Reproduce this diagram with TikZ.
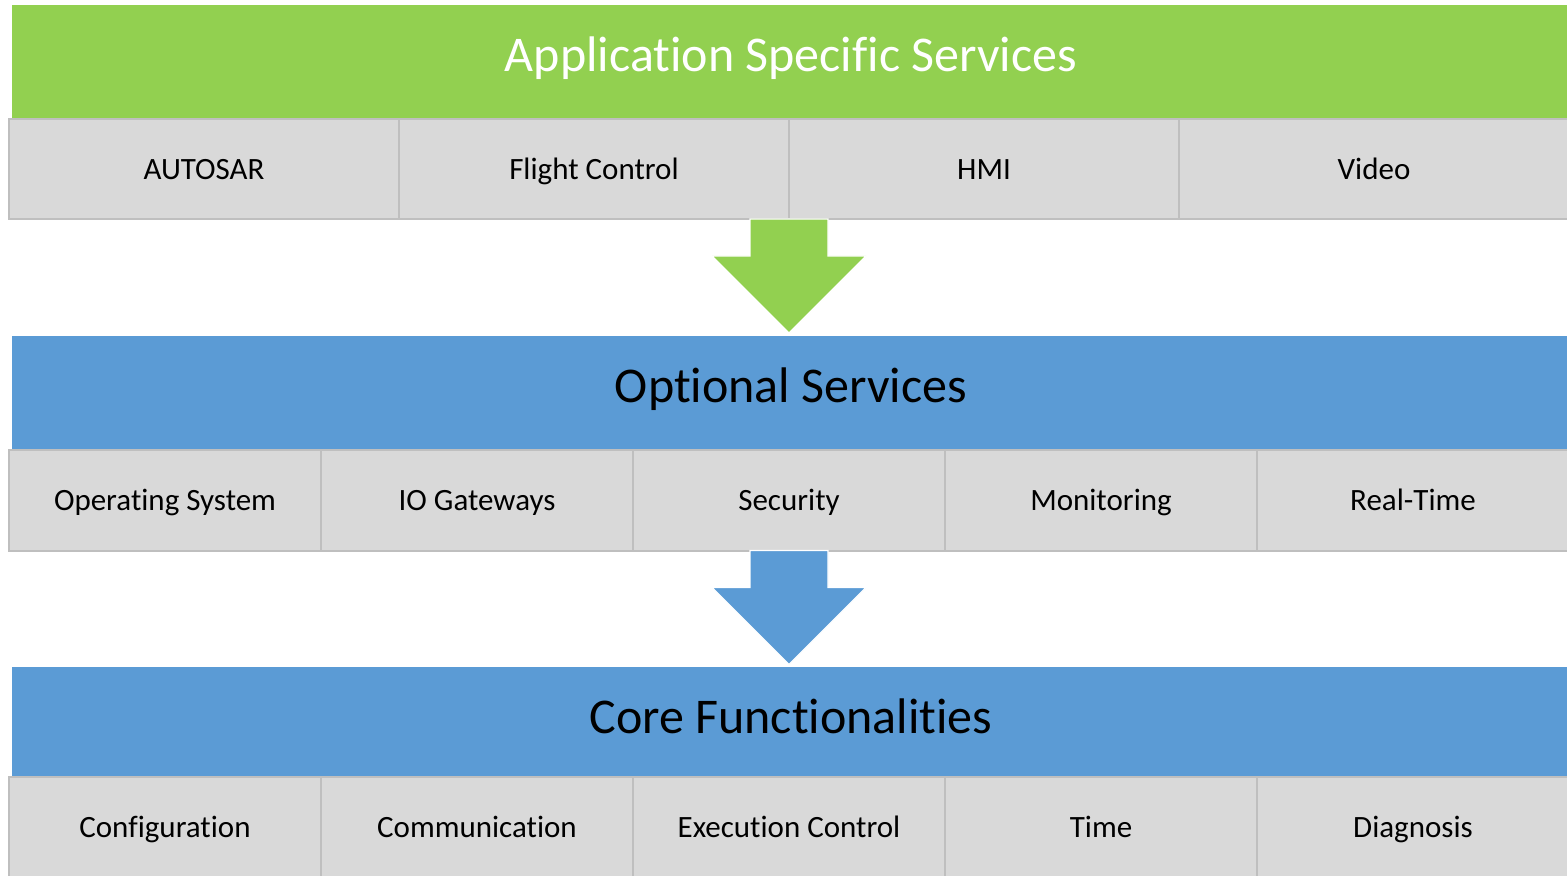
\documentclass[tikz,border=0pt]{standalone}
\usepackage{fontspec}
\setmainfont{Carlito}[Renderer=OpenType, Script=Latin, Ligatures={NoCommon,NoRare,NoContextual,NoHistoric,NoRequired}]
\usetikzlibrary{positioning}
\definecolor{appgreen}{HTML}{92D050}
\definecolor{optblue}{HTML}{5B9BD5}
\definecolor{cellgray}{HTML}{D9D9D9}
\definecolor{cellline}{HTML}{BFBFBF}
\tikzset{
  band/.style={fill=#1, draw=none, inner sep=0pt, outer sep=0pt, minimum width=779pt, minimum height=56.5pt,
    font=\fontsize{25}{30}\selectfont, text height=1.1em, text depth=0.08em},
  cell/.style={fill=cellgray, draw=cellline, line width=1pt, inner sep=0pt, outer sep=0pt, minimum height=50pt,
    font=\fontsize{15.5}{18}\selectfont, text height=1.1em, text depth=0.08em},
  cellfour/.style={cell, minimum width=195pt},
  cellfive/.style={cell, minimum width=156pt},
  blockarrow/.style={fill=#1, draw=white, line width=0.6pt}
}
\begin{document}
\begin{tikzpicture}[x=0.5pt, y=-0.5pt]
\useasboundingbox (0,0) rectangle (1567,876);
% Application Specific Services
\node[band=appgreen, text=white] (app) at (791,61.5) {Application Specific Services};
\node[cellfour] (ap1) at (204,169) {AUTOSAR};
\node[cellfour] (ap2) at (594,169) {Flight Control};
\node[cellfour] (ap3) at (984,169) {HMI};
\node[cellfour] (ap4) at (1374,169) {Video};

% Optional Services
\node[band=optblue] (opt) at (791,392.5) {Optional Services};
\node[cellfive] (op1) at (165,500.5) {Operating System};
\node[cellfive] (op2) at (477,500.5) {IO Gateways};
\node[cellfive] (op3) at (789,500.5) {Security};
\node[cellfive] (op4) at (1101,500.5) {Monitoring};
\node[cellfive] (op5) at (1413,500.5) {Real-Time};

% Core Functionalities
\node[band=optblue] (core) at (791,723.5) {Core Functionalities};
\node[cellfive] (co1) at (165,827) {Configuration};
\node[cellfive] (co2) at (477,827) {Communication};
\node[cellfive] (co3) at (789,827) {Execution Control};
\node[cellfive] (co4) at (1101,827) {Time};
\node[cellfive] (co5) at (1413,827) {Diagnosis};

% Pfeile
\begin{scope}[shift={(ap2.south east)}]
\fill[blockarrow=appgreen] (-39,0) -- (39,0) -- (39,37) -- (77,37) -- (0,114) -- (-77,37) -- (-39,37) -- cycle;
\end{scope}
\begin{scope}[shift={(op3.south)}]
\fill[blockarrow=optblue] (-39,0) -- (39,0) -- (39,37) -- (77,37) -- (0,114) -- (-77,37) -- (-39,37) -- cycle;
\end{scope}
\end{tikzpicture}
\end{document}
